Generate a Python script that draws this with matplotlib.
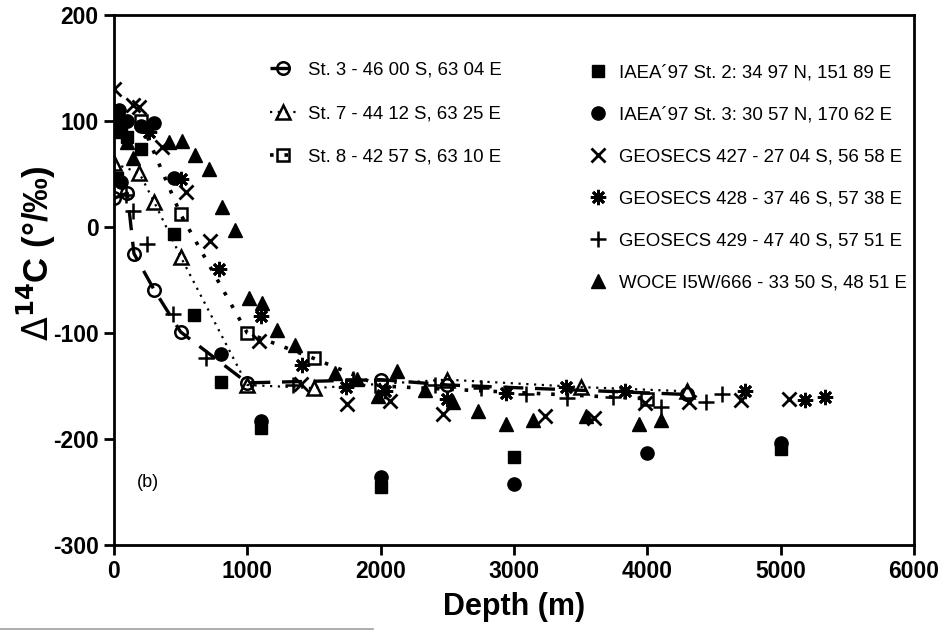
import matplotlib
matplotlib.use('Agg')
import matplotlib.pyplot as plt
from matplotlib.lines import Line2D

plt.rcParams['font.family'] = ['Liberation Sans', 'DejaVu Sans']
plt.rcParams['axes.unicode_minus'] = False

# St. 3 - open circles, dashed line
st3_depth = [0, 100, 150, 300, 500, 1000, 2000, 2500, 4300]
st3_d14c = [27, 32, -25, -59, -99, -147, -144, -149, -158]

# St. 7 - open triangles, fine dotted line
st7_depth = [0, 190, 300, 500, 1000, 1500, 2500, 3500, 4300]
st7_d14c = [60, 51, 24, -28, -149, -152, -144, -151, -155]

# St. 8 - open squares, coarse dotted line
st8_depth = [10, 200, 500, 1000, 1500, 2000, 4000]
st8_d14c = [95, 100, 12, -100, -124, -150, -162]

# IAEA'97 St. 2 - filled squares
iaea2_depth = [0, 25, 50, 75, 100, 200, 450, 600, 800, 1100, 2000, 3000, 5000]
iaea2_d14c = [95, 46, 90, 100, 85, 74, -7, -83, -146, -190, -245, -217, -209]

# IAEA'97 St. 3 - filled circles
iaea3_depth = [10, 40, 50, 100, 200, 300, 450, 800, 1100, 2000, 3000, 4000, 5000]
iaea3_d14c = [105, 110, 42, 100, 95, 98, 46, -120, -183, -236, -242, -213, -204]

# GEOSECS 427 - x
g427_depth = [0, 140, 190, 360, 540, 720, 1090, 1400, 1750, 2070, 2470, 3230, 3600, 3980, 4310, 4700, 5060]
g427_d14c = [130, 115, 113, 75, 33, -13, -108, -148, -167, -164, -176, -178, -180, -166, -165, -163, -162]

# GEOSECS 428 - asterisk
g428_depth = [260, 500, 790, 1100, 1410, 1740, 2030, 2500, 2940, 3390, 3830, 4730, 5180, 5330]
g428_d14c = [90, 45, -40, -84, -130, -151, -155, -162, -157, -151, -155, -155, -163, -160]

# GEOSECS 429 - plus
g429_depth = [90, 140, 250, 440, 690, 1340, 1790, 2410, 2750, 3090, 3400, 3740, 4100, 4440, 4560]
g429_d14c = [30, 15, -16, -82, -124, -149, -143, -149, -152, -158, -161, -160, -170, -165, -158]

# WOCE I5W/666 - filled triangles
woce_depth = [10, 100, 140, 410, 510, 610, 710, 810, 910, 1010, 1110, 1220, 1360, 1660, 1820,
              1980, 2120, 2330, 2540, 2730, 2940, 3140, 3540, 3940, 4100]
woce_d14c = [95, 80, 65, 80, 81, 68, 55, 19, -3, -67, -72, -97, -111, -138, -143,
             -159, -136, -154, -165, -174, -186, -182, -178, -186, -182]

fig = plt.figure(figsize=(9.52, 6.3), dpi=100)
ax = fig.add_axes([0.1197, 0.1349, 0.8403, 0.8413])

l1, = ax.plot(st3_depth, st3_d14c, color='black', lw=2.4, dashes=(6, 3.5), marker='o',
              ms=9, mfc='none', mec='black', mew=1.8)
l2, = ax.plot(st7_depth, st7_d14c, color='black', lw=1.6, ls=(0, (1, 2.5)), marker='^',
              ms=10, mfc='none', mec='black', mew=1.8)
l3, = ax.plot(st8_depth, st8_d14c, color='black', lw=2.6, ls=(0, (1, 3)), marker='s',
              ms=9, mfc='none', mec='black', mew=1.8)
p1, = ax.plot(iaea2_depth, iaea2_d14c, ls='none', marker='s', ms=9, color='black')
p2, = ax.plot(iaea3_depth, iaea3_d14c, ls='none', marker='o', ms=9.5, color='black')
p3, = ax.plot(g427_depth, g427_d14c, ls='none', marker='x', ms=10, mew=2, color='black')
p4, = ax.plot(g428_depth, g428_d14c, ls='none', marker=(8, 2, 0), ms=11, mew=2, color='black')
p5, = ax.plot(g429_depth, g429_d14c, ls='none', marker='+', ms=11, mew=1.8, color='black')
p6, = ax.plot(woce_depth, woce_d14c, ls='none', marker='^', ms=10.5, color='black')

ax.set_xlim(0, 6000)
ax.set_ylim(-300, 200)
ax.set_xticks([0, 1000, 2000, 3000, 4000, 5000, 6000])
ax.set_yticks([-300, -200, -100, 0, 100, 200])
for s in ax.spines.values():
    s.set_linewidth(2)
ax.tick_params(direction='out', length=7, width=2, labelsize=16.5, pad=4)
for t in ax.get_xticklabels() + ax.get_yticklabels():
    t.set_fontweight('bold')

ax.set_xlabel('Depth (m)', fontsize=22, fontweight='bold', labelpad=6)
ax.set_ylabel(r'$\Delta^{\mathbf{14}}$C (°/‰)', fontsize=25, fontweight='bold')
ax.yaxis.set_label_coords(-0.07, 0.55)

ax.text(170, -245, '(b)', fontsize=13)

leg1 = ax.legend([l1, l2, l3],
                 ['St. 3 - 46 00 S, 63 04 E', 'St. 7 - 44 12 S, 63 25 E', 'St. 8 - 42 57 S, 63 10 E'],
                 loc='upper left', bbox_to_anchor=(0.174, 0.943), frameon=False, fontsize=13.4,
                 handlelength=1.45, handletextpad=0.62, labelspacing=1.4)
ax.add_artist(leg1)
ax.legend([p1, p2, p3, p4, p5, p6],
          ['IAEA´97 St. 2: 34 97 N, 151 89 E', 'IAEA´97 St. 3: 30 57 N, 170 62 E',
           'GEOSECS 427 - 27 04 S, 56 58 E', 'GEOSECS 428 - 37 46 S, 57 38 E',
           'GEOSECS 429 - 47 40 S, 57 51 E', 'WOCE I5W/666 - 33 50 S, 48 51 E'],
          loc='upper left', bbox_to_anchor=(0.5725, 0.938), frameon=False, fontsize=13.4,
          handlelength=1.0, handletextpad=0.65, labelspacing=1.34)

# thin grey line along the bottom edge of the scan
fig.add_artist(Line2D([0, 373 / 952], [0.6 / 630, 0.6 / 630], color='#a0a0a0', lw=1.2))

fig.savefig('out.png', dpi=100)
